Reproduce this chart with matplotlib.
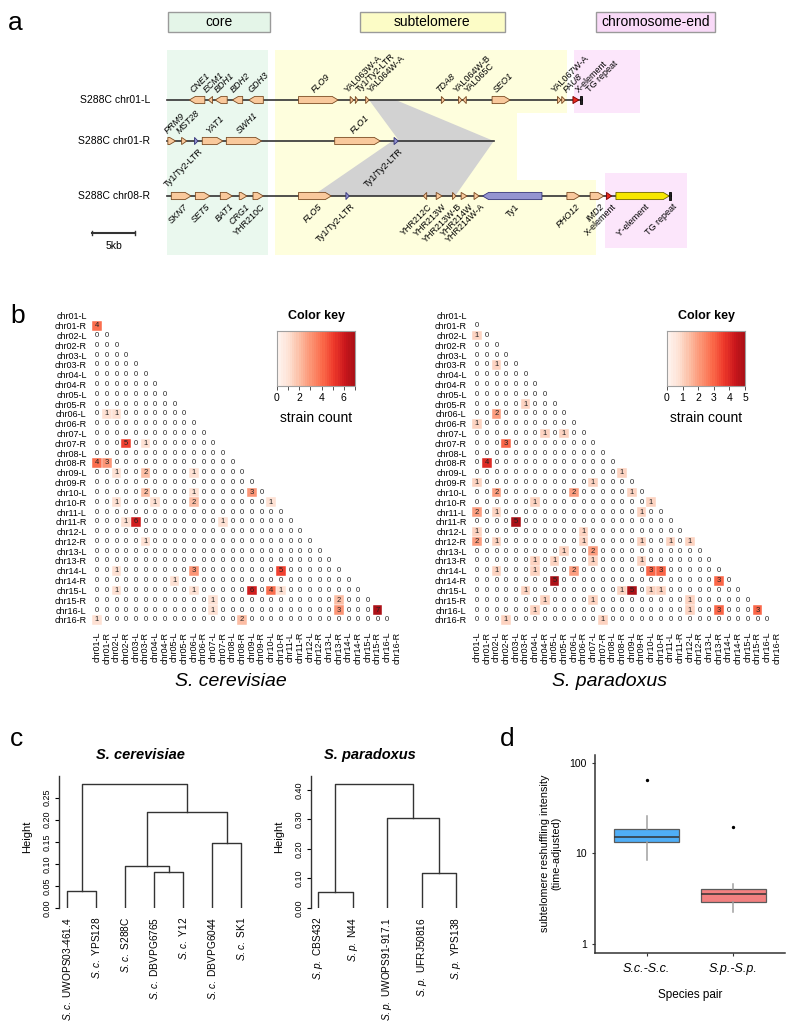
import re
import numpy as np
import matplotlib.pyplot as plt
from matplotlib.colors import ListedColormap
from matplotlib.patches import Polygon, Rectangle

plt.rcParams['font.family'] = ['Liberation Sans', 'DejaVu Sans']
plt.rcParams['mathtext.fontset'] = 'custom'
plt.rcParams['mathtext.rm'] = 'Liberation Sans'
plt.rcParams['mathtext.it'] = 'Liberation Sans:italic'

W, H = 800, 1033
fig = plt.figure(figsize=(W / 100, H / 100), dpi=100)


def px_axes(x0, y0, x1, y1):
    # axes from a pixel box (top-left origin)
    return fig.add_axes([x0 / W, 1 - y1 / H, (x1 - x0) / W, (y1 - y0) / H])


def ptext(x, y, s, **kw):
    fig.text(x / W, 1 - y / H, s, **kw)


# ---------------- data ----------------
# panel a: features per track, (name, start kb, end kb, strand, kind, label side)
track_names = ['S288C chr01-L', 'S288C chr01-R', 'S288C chr08-R']
track_ends = [48.2, 38.0, 58.6]
chr01L_features = [
    ('CNE1', 2.6, 4.4, -1, 'gene', 'up'),
    ('ECM1', 4.8, 5.3, -1, 'gene', 'up'),
    ('BDH1', 5.6, 7.0, -1, 'gene', 'up'),
    ('BDH2', 7.6, 8.8, -1, 'gene', 'up'),
    ('GDH3', 9.5, 11.2, -1, 'gene', 'up'),
    ('FLO9', 15.3, 19.9, 1, 'gene', 'up'),
    ('YAL063W-A', 21.3, 21.7, 1, 'gene', 'up'),
    ('Ty1/Ty2-LTR', 21.9, 22.2, 1, 'gene', 'up'),
    ('YAL064W-A', 23.1, 23.5, 1, 'gene', 'up'),
    ('TDA8', 31.9, 32.3, 1, 'gene', 'up'),
    ('YAL064W-B', 33.9, 34.3, 1, 'gene', 'up'),
    ('YAL065C', 34.4, 34.8, -1, 'gene', 'up'),
    ('SEO1', 37.8, 39.9, 1, 'gene', 'up'),
    ('YAL067W-A', 45.4, 45.8, 1, 'gene', 'up'),
    ('PAU8', 45.9, 46.3, 1, 'gene', 'up'),
    ('X-element', 47.2, 47.9, 1, 'x', 'up'),
    ('TG repeat', 48.0, 48.2, 1, 'tg', 'up'),
]
chr01R_features = [
    ('PRM9', 0.1, 1.0, 1, 'gene', 'up'),
    ('MST28', 1.7, 2.3, 1, 'gene', 'up'),
    ('Ty1/Ty2-LTR', 3.2, 3.6, 1, 'ty', 'dn'),
    ('YAT1', 4.1, 6.5, 1, 'gene', 'up'),
    ('SWH1', 6.9, 11.0, 1, 'gene', 'up'),
    ('FLO1', 19.5, 24.8, 1, 'gene', 'up'),
    ('Ty1/Ty2-LTR', 26.4, 26.9, 1, 'ty', 'dn'),
]
chr08R_features = [
    ('SKN7', 0.5, 2.8, 1, 'gene', 'dn'),
    ('SET5', 3.3, 5.0, 1, 'gene', 'dn'),
    ('BAT1', 6.2, 7.6, 1, 'gene', 'dn'),
    ('CRG1', 8.4, 9.3, 1, 'gene', 'dn'),
    ('YHR210C', 10.0, 11.2, 1, 'gene', 'dn'),
    ('FLO5', 15.3, 19.1, 1, 'gene', 'dn'),
    ('Ty1/Ty2-LTR', 20.8, 21.2, 1, 'ty', 'dn'),
    ('YHR212C', 29.8, 30.2, -1, 'gene', 'dn'),
    ('YHR213W', 31.3, 32.0, 1, 'gene', 'dn'),
    ('YHR213W-B', 33.2, 33.6, 1, 'gene', 'dn'),
    ('YHR214W', 34.2, 34.9, 1, 'gene', 'dn'),
    ('YHR214W-A', 35.7, 36.3, 1, 'gene', 'dn'),
    ('Ty1', 36.7, 43.6, -1, 'ty', 'dn'),
    ('PHO12', 46.5, 48.0, 1, 'gene', 'dn'),
    ('IMD2', 49.2, 50.8, 1, 'gene', 'dn'),
    ('X-element', 51.1, 51.7, 1, 'x', 'dn'),
    ("Y'-element", 52.2, 58.4, 1, 'y', 'dn'),
    ('TG repeat', 58.4, 58.6, 1, 'tg', 'dn'),
]
track_features = [chr01L_features, chr01R_features, chr08R_features]
# shared (grey) blocks: (track, start, end) -> (track, start, end)
synteny = [((0, 23.5, 26.6), (1, 27.0, 38.0)),
           ((1, 26.2, 38.0), (2, 16.9, 33.5))]
zone_names = ['core', 'subtelomere', 'chromosome-end']
zone_spans = [(0.1, 12.0), (22.4, 39.3), (49.9, 63.7)]

# panel b: shared subtelomeric blocks, (row, col, strain count); other cells 0
chroms = ['chr%02d-%s' % (i, a) for i in range(1, 17) for a in 'LR']
sc_counts = [
    ('chr01-R', 'chr01-L', 4),
    ('chr06-L', 'chr01-R', 1), ('chr06-L', 'chr02-L', 1),
    ('chr07-R', 'chr02-R', 5), ('chr07-R', 'chr03-R', 1),
    ('chr08-R', 'chr01-L', 4), ('chr08-R', 'chr01-R', 3),
    ('chr09-L', 'chr02-L', 1), ('chr09-L', 'chr03-R', 2), ('chr09-L', 'chr06-L', 1),
    ('chr10-L', 'chr03-R', 2), ('chr10-L', 'chr06-L', 1), ('chr10-L', 'chr09-L', 3),
    ('chr10-R', 'chr02-L', 1), ('chr10-R', 'chr04-L', 1), ('chr10-R', 'chr06-L', 2),
    ('chr10-R', 'chr10-L', 1),
    ('chr11-R', 'chr02-R', 1), ('chr11-R', 'chr03-L', 6), ('chr11-R', 'chr07-R', 1),
    ('chr12-R', 'chr03-R', 1),
    ('chr14-L', 'chr02-L', 1), ('chr14-L', 'chr06-L', 3), ('chr14-L', 'chr10-R', 5),
    ('chr14-R', 'chr05-L', 1),
    ('chr15-L', 'chr02-L', 1), ('chr15-L', 'chr06-L', 1), ('chr15-L', 'chr09-L', 6),
    ('chr15-L', 'chr10-L', 4), ('chr15-L', 'chr10-R', 1),
    ('chr15-R', 'chr07-L', 1), ('chr15-R', 'chr13-R', 2),
    ('chr16-L', 'chr07-L', 1), ('chr16-L', 'chr13-R', 3), ('chr16-L', 'chr15-R', 7),
    ('chr16-R', 'chr01-L', 1), ('chr16-R', 'chr08-R', 2),
]
sp_counts = [
    ('chr02-L', 'chr01-L', 1),
    ('chr03-R', 'chr02-L', 1),
    ('chr05-R', 'chr03-R', 1),
    ('chr06-L', 'chr02-L', 2),
    ('chr06-R', 'chr01-L', 1),
    ('chr07-L', 'chr04-R', 1), ('chr07-L', 'chr05-R', 1),
    ('chr07-R', 'chr02-R', 3),
    ('chr08-R', 'chr01-R', 4),
    ('chr09-L', 'chr08-R', 1),
    ('chr09-R', 'chr01-L', 1), ('chr09-R', 'chr07-L', 1),
    ('chr10-L', 'chr02-L', 2), ('chr10-L', 'chr06-L', 2), ('chr10-L', 'chr09-L', 1),
    ('chr10-R', 'chr04-L', 1), ('chr10-R', 'chr10-L', 1),
    ('chr11-L', 'chr01-L', 2), ('chr11-L', 'chr02-L', 1), ('chr11-L', 'chr09-R', 1),
    ('chr11-R', 'chr03-L', 5),
    ('chr12-L', 'chr01-L', 1), ('chr12-L', 'chr06-R', 1),
    ('chr12-R', 'chr01-L', 2), ('chr12-R', 'chr02-L', 1), ('chr12-R', 'chr06-R', 1),
    ('chr12-R', 'chr09-R', 1), ('chr12-R', 'chr11-L', 1), ('chr12-R', 'chr12-L', 1),
    ('chr13-L', 'chr05-R', 1), ('chr13-L', 'chr07-L', 2),
    ('chr13-R', 'chr04-L', 1), ('chr13-R', 'chr05-L', 1), ('chr13-R', 'chr07-L', 1),
    ('chr13-R', 'chr09-R', 1),
    ('chr14-L', 'chr02-L', 1), ('chr14-L', 'chr04-L', 1), ('chr14-L', 'chr06-L', 2),
    ('chr14-L', 'chr10-L', 3), ('chr14-L', 'chr10-R', 3),
    ('chr14-R', 'chr05-L', 5), ('chr14-R', 'chr13-R', 3),
    ('chr15-L', 'chr03-R', 1), ('chr15-L', 'chr08-R', 1), ('chr15-L', 'chr09-L', 5),
    ('chr15-L', 'chr10-L', 1), ('chr15-L', 'chr10-R', 1),
    ('chr15-R', 'chr04-R', 1), ('chr15-R', 'chr07-L', 1), ('chr15-R', 'chr12-L', 1),
    ('chr16-L', 'chr04-L', 1), ('chr16-L', 'chr12-L', 1), ('chr16-L', 'chr13-R', 3),
    ('chr16-L', 'chr15-R', 3),
    ('chr16-R', 'chr02-R', 1), ('chr16-R', 'chr07-R', 1),
]

# panel c: dendrograms, merges as (node a, node b, height), new nodes numbered after leaves
sc_strains = ['UWOPS03-461.4', 'YPS128', 'S288C', 'DBVPG6765', 'Y12', 'DBVPG6044', 'SK1']
sc_merges = [(0, 1, 0.038), (3, 4, 0.082), (2, 8, 0.096), (5, 6, 0.148),
             (9, 10, 0.218), (7, 11, 0.281)]
sp_strains = ['CBS432', 'N44', 'UWOPS91-917.1', 'UFRJ50816', 'YPS138']
sp_merges = [(0, 1, 0.055), (3, 4, 0.119), (2, 6, 0.306), (5, 7, 0.42)]

# panel d: box summaries (log scale)
pair_labels = ['S.c.-S.c.', 'S.p.-S.p.']
box_q1 = [13.4, 2.88]
box_med = [15.2, 3.53]
box_q3 = [18.4, 4.04]
whisk_lo = [8.4, 2.27]
whisk_hi = [25.8, 4.58]
outliers = [[64.3], [19.4]]
box_colors = ['#4FAEF7', '#F28080']

# ---------------- panel a ----------------
KB = 8.6
X0 = 167
ax_a = px_axes(0, 0, W, 280)
ax_a.set_xlim(-X0 / KB, (W - X0) / KB)
ax_a.set_ylim(280, 0)
ax_a.axis('off')

ax_a.add_patch(Rectangle((0, 50), 11.7, 205, fc='#EAF8EE', ec='none', zorder=0))
yellow = [(12.6, 50), (46.5, 50), (46.5, 113), (40.7, 113), (40.7, 180),
          (49.9, 180), (49.9, 255), (12.6, 255)]
ax_a.add_patch(Polygon(yellow, closed=True, fc='#FEFEDD', ec='none', zorder=0))
ax_a.add_patch(Rectangle((47.3, 50), 7.7, 63, fc='#FCE6FB', ec='none', zorder=0))
ax_a.add_patch(Rectangle((50.9, 173), 9.6, 75, fc='#FCE6FB', ec='none', zorder=0))

zone_colors = ['#E4F5E8', '#FCFCC6', '#F9DAF8']
for name, (a, b), c in zip(zone_names, zone_spans, zone_colors):
    ax_a.add_patch(Rectangle((a, 12), b - a, 20, fc=c, ec='#9A9A9A', lw=1))
    ax_a.text((a + b) / 2, 22.5, name, ha='center', va='center', fontsize=10)

track_y = [100, 141, 196]
for (ta, a0, a1), (tb, b0, b1) in synteny:
    ya, yb = track_y[ta], track_y[tb]
    ax_a.add_patch(Polygon([(a0, ya), (a1, ya), (b1, yb), (b0, yb)], closed=True,
                           fc='#D2D2D2', ec='none', zorder=1))

kind_style = {'gene': ('#F9C99C', '#7A4A22'), 'ty': ('#9494D0', '#35357A'),
              'x': ('#E8281E', '#7A0000'), 'y': ('#F7E600', '#6E6400'),
              'tg': ('#222222', '#000000')}
LABEL_GAP = 1.35  # kb, keeps slanted labels from overlapping

for name, y, end, feats in zip(track_names, track_y, track_ends, track_features):
    ax_a.plot([0, end], [y, y], color='#333333', lw=1.2, zorder=2)
    ax_a.text(-2.0, y, name, ha='right', va='center', fontsize=7.5)
    last = {'up': -99, 'dn': -99}
    for gname, s, e, strand, kind, side in feats:
        fc, ec = kind_style[kind]
        h = 3.6
        head = min(0.7, e - s)
        if kind == 'tg':
            pts = [(s, y - h), (e, y - h), (e, y + h), (s, y + h)]
        elif strand > 0:
            pts = [(s, y - h), (e - head, y - h), (e, y), (e - head, y + h), (s, y + h)]
        else:
            pts = [(e, y - h), (s + head, y - h), (s, y), (s + head, y + h), (e, y + h)]
        ax_a.add_patch(Polygon(pts, closed=True, fc=fc, ec=ec, lw=0.6, zorder=3))
        style = 'italic' if re.match(r'^[A-Z]{3}\d+$', gname) else 'normal'
        xc = max((s + e) / 2, last[side] + LABEL_GAP)
        last[side] = xc
        if side == 'up':
            ax_a.text(xc - 0.3, y - 6, gname, rotation=45, rotation_mode='anchor',
                      ha='left', va='bottom', fontsize=6.5, style=style)
        else:
            ax_a.text(xc + 0.3, y + 6, gname, rotation=45, rotation_mode='anchor',
                      ha='right', va='top', fontsize=6.5, style=style)

ax_a.plot([-8.7, -3.7], [233, 233], color='#333333', lw=1.5)
ax_a.plot([-8.7, -8.7], [231, 235], color='#333333', lw=1)
ax_a.plot([-3.7, -3.7], [231, 235], color='#333333', lw=1)
ax_a.text(-6.2, 246, '5kb', ha='center', va='center', fontsize=7.5)

# ---------------- panel b ----------------
reds = ListedColormap(plt.cm.Reds(np.linspace(0, 0.85, 256)))


def draw_matrix(box, counts, vmax, title, title_x):
    ax = px_axes(*box)
    n = len(chroms)
    ax.set_xlim(-0.5, n - 0.5)
    ax.set_ylim(n - 0.5, -0.5)
    vals = {(r, c): v for r, c, v in counts}
    for i in range(n):
        for j in range(i):
            v = vals.get((chroms[i], chroms[j]), 0)
            if v:
                ax.add_patch(Rectangle((j - 0.5, i - 0.5), 1, 1, fc=reds(v / vmax),
                                       ec='white', lw=0.3))
            ax.text(j, i, str(v), ha='center', va='center', fontsize=5.5,
                    color='#222222')
    ax.set_xticks(range(n))
    ax.set_xticklabels(chroms, rotation=90, fontsize=6.5)
    ax.set_yticks(range(n))
    ax.set_yticklabels(chroms, fontsize=6.5)
    ax.tick_params(length=0, pad=4)
    ax.tick_params(axis='x', pad=5)
    for sp in ax.spines.values():
        sp.set_visible(False)
    ptext(title_x, 682, title, ha='center', va='center', fontsize=14, style='italic')


def color_key(x0, vmax, ticks, ticklabels):
    axk = px_axes(x0, 331, x0 + 78, 386)
    grad = np.linspace(0, vmax, 36)[None, :]
    axk.imshow(grad, cmap=reds, vmin=0, vmax=vmax, aspect='auto',
               extent=(0, vmax, 0, 1), interpolation='nearest')
    axk.set_yticks([])
    axk.set_xticks(ticks)
    axk.set_xticklabels(ticklabels, fontsize=7.5)
    axk.tick_params(axis='x', length=3, width=0.6, color='#333333', pad=2)
    for sp in axk.spines.values():
        sp.set_color('#A0A0A0')
    ptext(x0 + 39, 316, 'Color key', ha='center', va='center', fontsize=9,
          fontweight='bold')
    ptext(x0 + 39, 418, 'strain count', ha='center', va='center', fontsize=10)


draw_matrix((92.2, 311.1, 401.6, 624.7), sc_counts, 7, 'S. cerevisiae', 231)
draw_matrix((472.2, 311.1, 781.6, 624.7), sp_counts, 5, 'S. paradoxus', 610)
color_key(277, 7, list(range(8)), ['0', '', '2', '', '4', '', '6', ''])
color_key(667, 5, list(range(6)), [str(i) for i in range(6)])

# ---------------- panel c ----------------


def draw_dendro(box, strains, merges, prefix, xlim, ylim, yticks, title, title_x):
    ax = px_axes(*box)
    n = len(strains)
    xs = {i: i + 1 for i in range(n)}
    hs = {i: 0.0 for i in range(n)}
    for k, (a, b, h) in enumerate(merges):
        ax.plot([xs[a], xs[a], xs[b], xs[b]], [hs[a], h, h, hs[b]],
                color='#333333', lw=1)
        xs[n + k] = (xs[a] + xs[b]) / 2
        hs[n + k] = h
    ax.set_xlim(*xlim)
    ax.set_ylim(*ylim)
    ax.set_xticks([])
    ax.set_yticks(yticks)
    ax.set_yticklabels(['%.2f' % t for t in yticks], rotation=90, va='center',
                       fontsize=6.5)
    ax.tick_params(axis='y', length=3, width=0.8, pad=2)
    for side in ['top', 'right', 'bottom']:
        ax.spines[side].set_visible(False)
    ax.spines['left'].set_linewidth(1)
    ax.spines['left'].set_color('#333333')
    for i, s in enumerate(strains):
        ax.annotate(r'$\mathit{%s}$ %s' % (prefix, s), (i + 1, 0), xytext=(0, -6.5),
                    textcoords='offset points', rotation=90, ha='center', va='top',
                    fontsize=7.3)
    ptext(title_x, 755, title, ha='center', va='center', fontsize=10.5,
          fontweight='bold', style='italic')
    ptext(box[0] - 32, 837, 'Height', rotation=90, ha='center', va='center', fontsize=8)


draw_dendro((59, 776, 255, 908), sc_strains, sc_merges, 'S.c.', (0.724, 7.48),
            (0, 0.299), [0, 0.05, 0.10, 0.15, 0.20, 0.25], 'S. cerevisiae', 140)
draw_dendro((311, 776, 470, 908), sp_strains, sp_merges, 'S.p.', (0.798, 5.39),
            (0, 0.447), [0, 0.1, 0.2, 0.3, 0.4], 'S. paradoxus', 370)

# ---------------- panel d ----------------
ax_d = px_axes(595, 755, 785, 953)
stats = []
for i in range(2):
    stats.append({'med': box_med[i], 'q1': box_q1[i], 'q3': box_q3[i],
                  'whislo': whisk_lo[i], 'whishi': whisk_hi[i], 'fliers': outliers[i]})
bp = ax_d.bxp(stats, positions=[1, 2], widths=0.75, patch_artist=True, showcaps=False,
              boxprops=dict(edgecolor='#5A5A5A', linewidth=0.9),
              medianprops=dict(color='#333333', linewidth=1.1),
              whiskerprops=dict(color='#A0A0A0', linewidth=1.1),
              flierprops=dict(marker='o', markersize=1.4, markerfacecolor='black',
                              markeredgecolor='black'))
for patch, c in zip(bp['boxes'], box_colors):
    patch.set_facecolor(c)
ax_d.set_yscale('log')
ax_d.set_ylim(0.796, 121.6)
ax_d.set_xlim(0.4, 2.6)
ax_d.set_yticks([1, 10, 100])
ax_d.set_yticklabels(['1', '10', '100'], fontsize=7.5)
ax_d.minorticks_off()
ax_d.set_xticks([1, 2])
ax_d.set_xticklabels(pair_labels, fontsize=9, style='italic')
ax_d.tick_params(axis='both', length=2.5, width=0.8, color='#333333')
ax_d.tick_params(axis='x', pad=5)
for side in ['top', 'right']:
    ax_d.spines[side].set_visible(False)
for side in ['left', 'bottom']:
    ax_d.spines[side].set_linewidth(1.1)
    ax_d.spines[side].set_color('#333333')
ptext(551, 853, 'subtelomere reshuffling intensity\n(time-adjusted)', rotation=90,
      ha='center', va='center', fontsize=7.8, multialignment='center')
ptext(690, 995, 'Species pair', ha='center', va='center', fontsize=8.5)

# panel letters
ptext(8, 30, 'a', fontsize=19, va='baseline')
ptext(10, 323, 'b', fontsize=19, va='baseline')
ptext(10, 746, 'c', fontsize=19, va='baseline')
ptext(500, 746, 'd', fontsize=19, va='baseline')

fig.savefig('out.png', dpi=100)
